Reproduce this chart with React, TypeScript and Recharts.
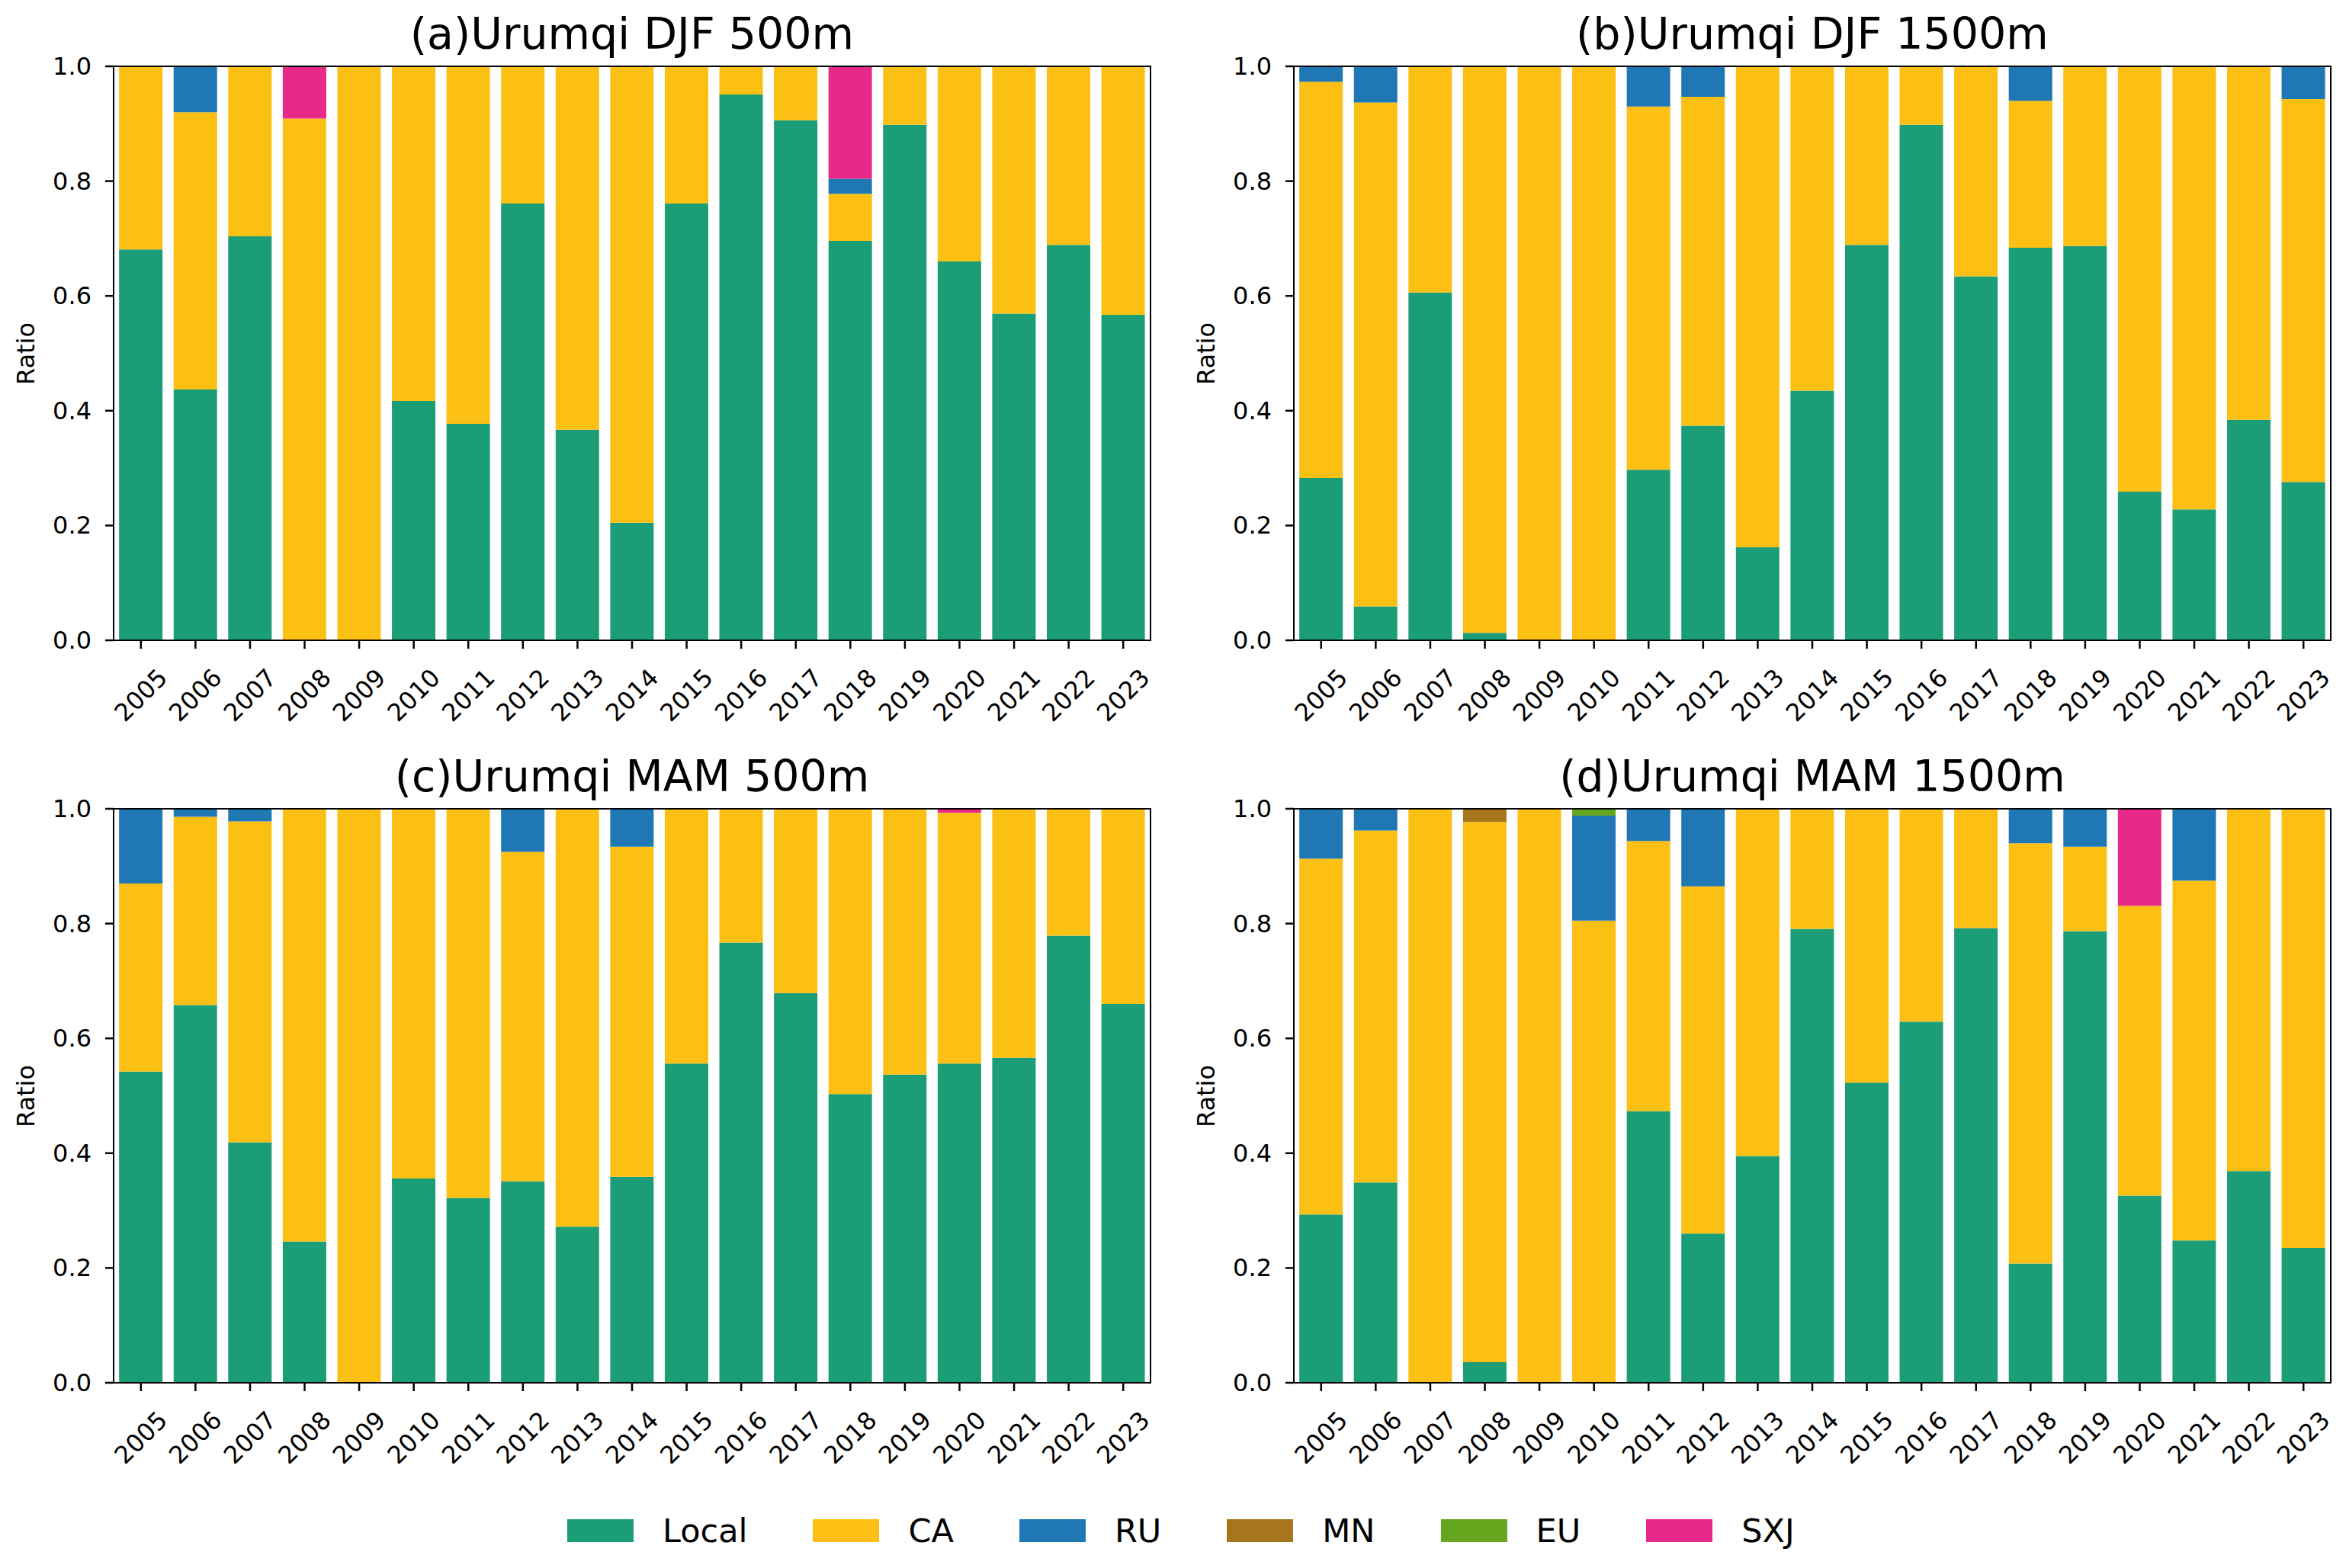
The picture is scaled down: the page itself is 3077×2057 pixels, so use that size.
import React from 'react';
import { BarChart, Bar, XAxis, YAxis } from 'recharts';

const years = ['2005', '2006', '2007', '2008', '2009', '2010', '2011', '2012', '2013', '2014', '2015', '2016', '2017', '2018', '2019', '2020', '2021', '2022', '2023'];
const seriesNames = ['Local', 'CA', 'RU', 'MN', 'EU', 'SXJ'];
const seriesColors = ['#1b9e77', '#fcbf14', '#1f77b4', '#a6761d', '#66a61e', '#e7298a'];
const yTicks = [0, 0.2, 0.4, 0.6, 0.8, 1.0];

// (a) Urumqi DJF 500m
const localA = [0.681, 0.437, 0.704, 0, 0, 0.417, 0.377, 0.761, 0.367, 0.205, 0.761, 0.951, 0.906, 0.696, 0.898, 0.660, 0.569, 0.689, 0.567];
const caA = [0.319, 0.483, 0.296, 0.909, 1.0, 0.583, 0.623, 0.239, 0.633, 0.795, 0.239, 0.049, 0.094, 0.082, 0.102, 0.340, 0.431, 0.311, 0.433];
const ruA = [0, 0.080, 0, 0, 0, 0, 0, 0, 0, 0, 0, 0, 0, 0.026, 0, 0, 0, 0, 0];
const mnA = [0, 0, 0, 0, 0, 0, 0, 0, 0, 0, 0, 0, 0, 0, 0, 0, 0, 0, 0];
const euA = [0, 0, 0, 0, 0, 0, 0, 0, 0, 0, 0, 0, 0, 0, 0, 0, 0, 0, 0];
const sxjA = [0, 0, 0, 0.091, 0, 0, 0, 0, 0, 0, 0, 0, 0, 0.196, 0, 0, 0, 0, 0];

// (b) Urumqi DJF 1500m
const localB = [0.283, 0.059, 0.606, 0.013, 0, 0, 0.297, 0.374, 0.162, 0.435, 0.689, 0.898, 0.634, 0.684, 0.687, 0.259, 0.228, 0.384, 0.276];
const caB = [0.690, 0.878, 0.394, 0.987, 1.0, 1.0, 0.633, 0.573, 0.838, 0.565, 0.311, 0.102, 0.366, 0.256, 0.313, 0.741, 0.772, 0.616, 0.667];
const ruB = [0.027, 0.063, 0, 0, 0, 0, 0.070, 0.053, 0, 0, 0, 0, 0, 0.060, 0, 0, 0, 0, 0.057];
const mnB = [0, 0, 0, 0, 0, 0, 0, 0, 0, 0, 0, 0, 0, 0, 0, 0, 0, 0, 0];
const euB = [0, 0, 0, 0, 0, 0, 0, 0, 0, 0, 0, 0, 0, 0, 0, 0, 0, 0, 0];
const sxjB = [0, 0, 0, 0, 0, 0, 0, 0, 0, 0, 0, 0, 0, 0, 0, 0, 0, 0, 0];

// (c) Urumqi MAM 500m
const localC = [0.542, 0.658, 0.419, 0.246, 0, 0.356, 0.322, 0.351, 0.272, 0.359, 0.556, 0.767, 0.679, 0.503, 0.537, 0.556, 0.566, 0.779, 0.660];
const caC = [0.328, 0.328, 0.559, 0.754, 1.0, 0.644, 0.678, 0.574, 0.728, 0.575, 0.444, 0.233, 0.321, 0.497, 0.463, 0.437, 0.434, 0.221, 0.340];
const ruC = [0.130, 0.014, 0.022, 0, 0, 0, 0, 0.075, 0, 0.066, 0, 0, 0, 0, 0, 0, 0, 0, 0];
const mnC = [0, 0, 0, 0, 0, 0, 0, 0, 0, 0, 0, 0, 0, 0, 0, 0, 0, 0, 0];
const euC = [0, 0, 0, 0, 0, 0, 0, 0, 0, 0, 0, 0, 0, 0, 0, 0, 0, 0, 0];
const sxjC = [0, 0, 0, 0, 0, 0, 0, 0, 0, 0, 0, 0, 0, 0, 0, 0.007, 0, 0, 0];

// (d) Urumqi MAM 1500m
const localD = [0.293, 0.349, 0, 0.036, 0, 0, 0.473, 0.260, 0.395, 0.791, 0.523, 0.629, 0.792, 0.208, 0.787, 0.326, 0.248, 0.369, 0.235];
const caD = [0.620, 0.613, 1.0, 0.941, 1.0, 0.805, 0.471, 0.605, 0.605, 0.209, 0.477, 0.371, 0.208, 0.732, 0.147, 0.505, 0.627, 0.631, 0.765];
const ruD = [0.087, 0.038, 0, 0, 0, 0.183, 0.056, 0.135, 0, 0, 0, 0, 0, 0.060, 0.066, 0, 0.125, 0, 0];
const mnD = [0, 0, 0, 0.023, 0, 0, 0, 0, 0, 0, 0, 0, 0, 0, 0, 0, 0, 0, 0];
const euD = [0, 0, 0, 0, 0, 0.012, 0, 0, 0, 0, 0, 0, 0, 0, 0, 0, 0, 0, 0];
const sxjD = [0, 0, 0, 0, 0, 0, 0, 0, 0, 0, 0, 0, 0, 0, 0, 0.169, 0, 0, 0];

const FONT = '"DejaVu Sans", sans-serif';

const buildRows = (series: number[][]) =>
  years.map((year, i) => {
    const row: Record<string, any> = { year };
    seriesNames.forEach((name, k) => {
      row[name] = series[k][i];
    });
    return row;
  });

const panels = [
  { title: '(a)Urumqi DJF 500m', left: 0, top: 0, rows: buildRows([localA, caA, ruA, mnA, euA, sxjA]) },
  { title: '(b)Urumqi DJF 1500m', left: 1548, top: 0, rows: buildRows([localB, caB, ruB, mnB, euB, sxjB]) },
  { title: '(c)Urumqi MAM 500m', left: 0, top: 974, rows: buildRows([localC, caC, ruC, mnC, euC, sxjC]) },
  { title: '(d)Urumqi MAM 1500m', left: 1548, top: 974, rows: buildRows([localD, caD, ruD, mnD, euD, sxjD]) },
];

const CHART_W = 1540;
const CHART_H = 960;
const M_TOP = 87;
const M_LEFT = 29;
const Y_W = 120;
const M_RIGHT = 31;
const X_H = 100;
const M_BOTTOM = 20;
const PLOT_L = M_LEFT + Y_W;
const PLOT_W = CHART_W - PLOT_L - M_RIGHT;
const PLOT_H = CHART_H - M_TOP - X_H - M_BOTTOM;

const XTick = (props: any) => {
  const { x, y, payload } = props;
  const cy = y + 61;
  return (
    <text
      x={x}
      y={cy}
      transform={`rotate(-45 ${x} ${cy})`}
      textAnchor="middle"
      dominantBaseline="central"
      fontSize={32}
      fontFamily={FONT}
      fill="#000"
    >
      {payload.value}
    </text>
  );
};

const YTick = (props: any) => {
  const { x, y, payload } = props;
  return (
    <text x={x} y={y} textAnchor="end" dominantBaseline="central" fontSize={32} fontFamily={FONT} fill="#000">
      {Number(payload.value).toFixed(1)}
    </text>
  );
};

const Panel = ({ title, left, top, rows }: any) => (
  <div style={{ position: 'absolute', left, top, width: CHART_W, height: CHART_H }}>
    <BarChart
      width={CHART_W}
      height={CHART_H}
      data={rows}
      margin={{ top: M_TOP, right: M_RIGHT, bottom: M_BOTTOM, left: M_LEFT }}
      barCategoryGap="10%"
    >
      <XAxis
        dataKey="year"
        height={X_H}
        interval={0}
        tickSize={11}
        tickMargin={0}
        axisLine={false}
        tickLine={{ stroke: '#000', strokeWidth: 2.5 }}
        tick={XTick}
      />
      <YAxis
        type="number"
        domain={[0, 1]}
        allowDataOverflow
        ticks={yTicks}
        width={Y_W}
        tickSize={11}
        tickMargin={18}
        axisLine={false}
        tickLine={{ stroke: '#000', strokeWidth: 2.5 }}
        tick={YTick}
      />
      {seriesNames.map((name, k) => (
        <Bar key={name} dataKey={name} stackId="s" fill={seriesColors[k]} isAnimationActive={false} />
      ))}
    </BarChart>
    <div
      style={{
        position: 'absolute',
        left: PLOT_L - 1.3,
        top: M_TOP - 1.3,
        width: PLOT_W + 2.6,
        height: PLOT_H + 2.6,
        border: '2.6px solid #000',
        boxSizing: 'border-box',
        pointerEvents: 'none',
      }}
    />
    <div
      style={{
        position: 'absolute',
        left: PLOT_L,
        top: M_TOP - 23 - 48,
        width: PLOT_W,
        textAlign: 'center',
        fontSize: 57,
        lineHeight: '57px',
        fontFamily: FONT,
        color: '#000',
        whiteSpace: 'nowrap',
      }}
    >
      {title}
    </div>
    <div
      style={{
        position: 'absolute',
        left: 34,
        top: M_TOP + PLOT_H / 2,
        transform: 'translate(-50%, -50%) rotate(-90deg)',
        fontSize: 32,
        lineHeight: '32px',
        fontFamily: FONT,
        color: '#000',
        whiteSpace: 'nowrap',
      }}
    >
      Ratio
    </div>
  </div>
);

export default function App() {
  return (
    <div style={{ position: 'absolute', left: 0, top: 0, width: 3077, height: 2057, background: '#fff', fontFamily: FONT }}>
      {panels.map((p) => (
        <Panel key={p.title} {...p} />
      ))}
      <div
        style={{
          position: 'absolute',
          left: 744,
          top: 1993,
          height: 30,
          display: 'flex',
          alignItems: 'center',
          gap: 86,
        }}
      >
        {seriesNames.map((name, k) => (
          <div key={name} style={{ display: 'flex', alignItems: 'center' }}>
            <div style={{ width: 87, height: 30, background: seriesColors[k] }} />
            <span style={{ marginLeft: 38, fontSize: 43, lineHeight: '30px', fontFamily: FONT, color: '#000', whiteSpace: 'nowrap' }}>
              {name}
            </span>
          </div>
        ))}
      </div>
    </div>
  );
}
